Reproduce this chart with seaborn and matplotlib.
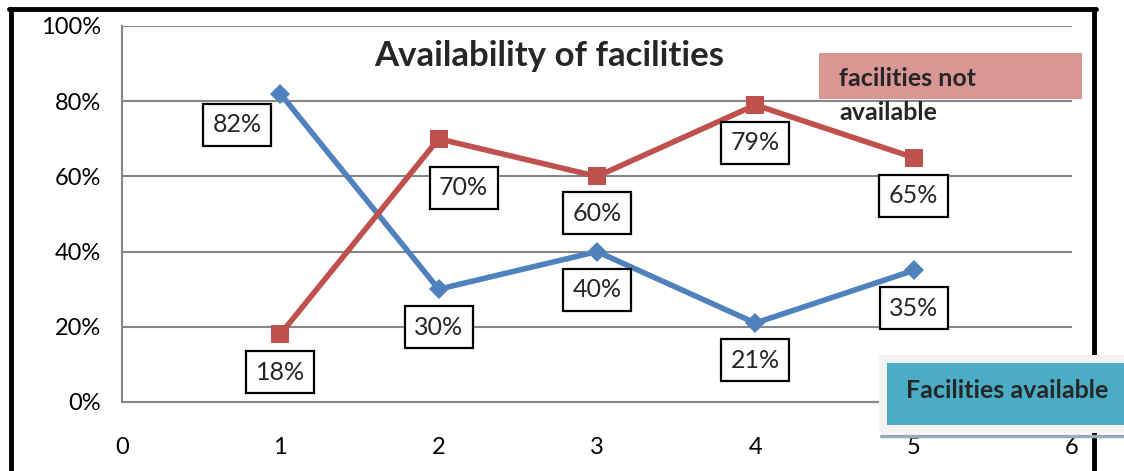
import matplotlib
matplotlib.use("Agg")
import matplotlib.pyplot as plt
from matplotlib.patches import Rectangle
from matplotlib.lines import Line2D
import seaborn as sns
import pandas as pd

# Survey results by item number
items = [1, 2, 3, 4, 5]
available = [82, 30, 40, 21, 35]
not_available = [18, 70, 60, 79, 65]

x_ticks = [0, 1, 2, 3, 4, 5, 6]
y_ticks = [0, 20, 40, 60, 80, 100]

BLUE = "#4F81BD"
RED = "#C0504D"
GRID = "#878787"

sns.set_theme(style="white")
plt.rcParams["font.family"] = ["Lato", "DejaVu Sans"]

W, H = 1124, 471
fig = plt.figure(figsize=(W / 100, H / 100), dpi=100)
ax = fig.add_axes([122 / W, 1 - 402 / H, (1072 - 122) / W, (402 - 26) / H])

df = pd.DataFrame({
    "item": items * 2,
    "pct": available + not_available,
    "series": ["Facilities available"] * 5 + ["facilities not available"] * 5,
})

sns.lineplot(data=df[df.series == "Facilities available"], x="item", y="pct",
             color=BLUE, lw=4, marker="D", markersize=10, markeredgewidth=0,
             ax=ax, legend=False, zorder=3)
sns.lineplot(data=df[df.series == "facilities not available"], x="item", y="pct",
             color=RED, lw=4, marker="s", markersize=13, markeredgewidth=0,
             ax=ax, legend=False, zorder=3)

ax.set_xlim(0, 6)
ax.set_ylim(0, 100)
ax.set_xticks(x_ticks)
ax.set_xticklabels([str(v) for v in x_ticks])
ax.set_yticks(y_ticks)
ax.set_yticklabels([f"{v}%" for v in y_ticks])
ax.set_xlabel("")
ax.set_ylabel("")
ax.grid(axis="y", color=GRID, lw=1.5)
ax.grid(axis="x", visible=False)
for s in ["top", "right"]:
    ax.spines[s].set_visible(False)
for s in ["left", "bottom"]:
    ax.spines[s].set_color(GRID)
    ax.spines[s].set_linewidth(1.5)
ax.tick_params(axis="both", colors=GRID, length=6, width=1.5, labelsize=17,
               labelcolor="black")
ax.tick_params(axis="x", pad=19)
ax.tick_params(axis="y", pad=9)
ax.set_facecolor("none")

box = dict(boxstyle="square,pad=0.38", fc="white", ec="black", lw=1.6)
blue_off = [(-43, -31), (0, -38), (0, -38), (0, -37), (0, -38)]
red_off = [(0, -38), (25, -49), (0, -37), (0, -38), (0, -38)]
for xv, yv, off in zip(items, available, blue_off):
    ax.annotate(f"{yv}%", (xv, yv), xytext=off, textcoords="offset pixels",
                ha="center", va="center", fontsize=18, bbox=box, zorder=5)
for xv, yv, off in zip(items, not_available, red_off):
    ax.annotate(f"{yv}%", (xv, yv), xytext=off, textcoords="offset pixels",
                ha="center", va="center", fontsize=18, bbox=box, zorder=5)

fig.text(549 / W, 1 - 56 / H, "Availability of facilities", ha="center",
         va="center", fontsize=25, fontweight="bold")


def fx(px):
    return px / W


def fy(py):
    return 1 - py / H


# Outer frame
for xs, ys in [((11, 11), (9, 471)), ((9, 1096), (9, 9)), ((1094, 1094), (9, 471))]:
    fig.add_artist(Line2D([fx(v) for v in xs], [fy(v) for v in ys],
                          color="black", lw=3.5, zorder=1))

# Series name tags
fig.add_artist(Rectangle((fx(819), fy(99)), fx(1082) - fx(819), fy(53) - fy(99),
                         fc="#D99694", ec="none", zorder=6))
fig.text(fx(839), fy(79), "facilities not", ha="left", va="center",
         fontsize=18, fontweight="bold", zorder=7)
fig.text(fx(839), fy(113), "available", ha="left", va="center",
         fontsize=18, fontweight="bold", zorder=7)

fig.add_artist(Rectangle((fx(879), fy(433)), fx(1124) - fx(879), fy(355) - fy(433),
                         fc="#F2F2F2", ec="none", zorder=6))
fig.add_artist(Line2D([fx(881), fx(1124)], [fy(436), fy(436)],
                      color="#93AEB9", lw=2.5, zorder=6))
fig.add_artist(Rectangle((fx(887), fy(425)), fx(1124) - fx(887), fy(363) - fy(425),
                         fc="#4BACC6", ec="none", zorder=7))
fig.text(fx(1007), fy(391), "Facilities available", ha="center", va="center",
         fontsize=18, fontweight="bold", zorder=8)

fig.savefig("out.png", dpi=100, facecolor="white")
